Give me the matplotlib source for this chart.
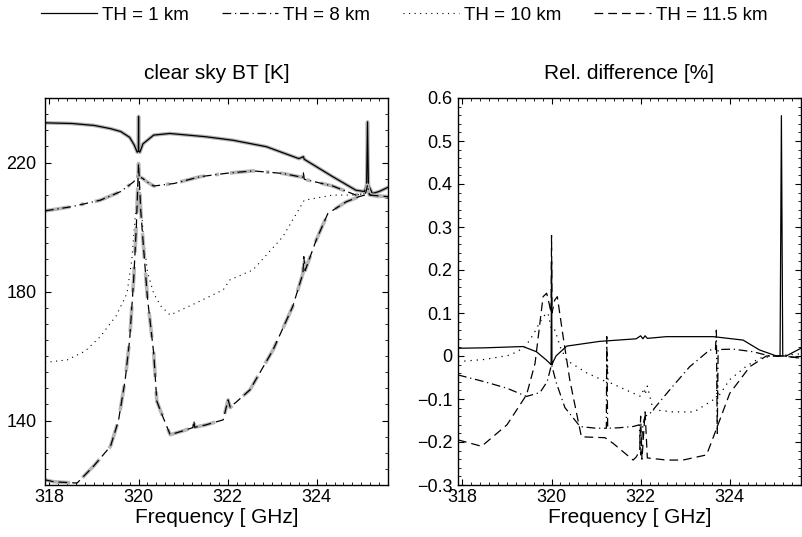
import matplotlib
matplotlib.use('Agg')
import matplotlib.pyplot as plt
from matplotlib.ticker import MultipleLocator, FuncFormatter

plt.rcParams['font.family'] = ['Liberation Sans', 'DejaVu Sans']

# ---- clear sky BT [K] ----
f_bt1 = [317.9, 318.5, 319.0, 319.37, 319.6, 319.8, 319.9, 319.97, 319.995, 320.0, 320.005, 320.03,
         320.1, 320.34, 320.7, 321.5, 322.12, 322.87, 323.6, 323.7, 323.72, 324.36, 324.88, 325.07,
         325.12, 325.14, 325.16, 325.25, 325.4, 325.6]
bt1 = [232.3, 232.1, 231.5, 230.5, 229.6, 227.8, 225.5, 223.2, 223.5, 234.3, 223.5, 223.2,
       225.8, 228.5, 229.0, 228.0, 226.9, 224.9, 221.2, 221.8, 221.0, 215.6, 211.4, 211.0,
       213.0, 232.6, 213.0, 210.4, 211.0, 212.3]

f_bt8 = [317.9, 318.5, 319.14, 319.6, 319.89, 319.97, 320.0, 320.03, 320.1, 320.19, 320.34, 320.8,
         321.38, 322.0, 322.57, 323.24, 323.68, 323.7, 323.72, 324.36, 324.88, 325.1, 325.14, 325.18, 325.6]
bt8 = [205.0, 206.3, 208.3, 211.0, 214.0, 215.5, 216.6, 215.5, 215.0, 214.0, 212.7, 213.5,
       215.6, 216.7, 217.4, 216.6, 215.4, 216.8, 214.8, 212.7, 209.9, 210.5, 213.0, 210.0, 208.9]

f_bt10 = [317.9, 318.4, 318.8, 319.14, 319.5, 319.74, 319.85, 319.93, 320.0, 320.05, 320.11, 320.2,
          320.34, 320.5, 320.71, 321.3, 321.9, 322.05, 322.57, 323.24, 323.72, 324.36, 324.88, 325.14, 325.6]
bt10 = [158.0, 158.8, 161.5, 166.0, 172.5, 179.4, 190.0, 204.0, 216.0, 208.0, 197.0, 186.0,
        179.4, 175.5, 172.7, 176.5, 180.5, 183.6, 186.7, 197.0, 208.3, 209.9, 209.9, 210.5, 209.4]

f_bt11 = [317.9, 318.1, 318.62, 319.0, 319.37, 319.55, 319.7, 319.8, 319.89, 319.95, 320.0, 320.05,
          320.11, 320.2, 320.34, 320.41, 320.55, 320.71, 321.0, 321.22, 321.24, 321.26, 321.5, 321.9,
          322.01, 322.06, 322.12, 322.2, 322.5, 323.02, 323.46, 323.69, 323.71, 323.74, 323.99, 324.25,
          324.66, 324.95, 325.1, 325.6]
bt11 = [121.6, 121.0, 120.6, 126.0, 132.0, 140.0, 152.6, 165.0, 183.6, 200.0, 219.7, 205.0,
        194.0, 178.0, 160.9, 146.0, 141.0, 135.6, 136.8, 137.8, 140.0, 137.9, 138.6, 140.2,
        146.4, 144.0, 144.9, 145.8, 149.5, 161.9, 175.3, 185.6, 190.8, 186.5, 196.0, 204.2,
        207.8, 209.4, 210.0, 209.4]

# ---- Rel. difference [%] ----
f_rd1 = [317.9, 318.5, 319.36, 319.66, 319.89, 319.97, 319.99, 320.0, 320.01, 320.03, 320.1, 320.34,
         321.08, 321.9, 322.0, 322.05, 322.1, 322.15, 322.58, 323.63, 324.3, 324.67, 325.05, 325.13,
         325.16, 325.19, 325.27, 325.45, 325.6]
rd1 = [0.018, 0.019, 0.022, 0.010, -0.010, -0.018, -0.020, 0.220, -0.020, -0.015, 0.0, 0.023,
       0.034, 0.040, 0.047, 0.040, 0.047, 0.041, 0.045, 0.045, 0.037, 0.014, 0.0, 0.0,
       0.559, 0.0, 0.0, 0.010, 0.018]

f_rd8 = [317.9, 318.5, 319.0, 319.44, 319.74, 319.9, 320.0, 320.1, 320.3, 320.64, 321.0, 321.23,
         321.24, 321.26, 321.27, 321.5, 321.83, 321.97, 322.0, 322.05, 322.1, 322.2, 322.65, 323.1,
         323.55, 323.68, 323.7, 323.72, 323.74, 324.07, 324.52, 324.9, 325.2, 325.6]
rd8 = [-0.044, -0.060, -0.075, -0.094, -0.085, -0.060, -0.020, -0.060, -0.120, -0.164, -0.168, -0.168,
       0.045, -0.168, -0.168, -0.167, -0.164, -0.160, -0.230, -0.160, -0.140, -0.135, -0.079, -0.025,
       0.014, 0.015, 0.060, -0.180, 0.015, 0.016, 0.010, 0.0, 0.0, -0.005]

f_rd10 = [317.9, 318.5, 319.07, 319.4, 319.59, 319.81, 319.92, 320.0, 320.08, 320.19, 320.34, 320.8,
          321.23, 321.25, 321.27, 321.8, 322.0, 322.08, 322.1, 322.15, 322.28, 322.73, 323.2, 323.63,
          323.7, 323.72, 323.74, 324.0, 324.37, 324.67, 325.0, 325.6]
rd10 = [-0.013, -0.008, 0.002, 0.020, 0.050, 0.092, 0.100, 0.060, 0.060, 0.022, -0.010, -0.040,
        -0.060, 0.005, -0.060, -0.085, -0.094, -0.075, -0.090, -0.070, -0.125, -0.130, -0.130, -0.102,
        -0.100, -0.040, -0.095, -0.055, -0.024, -0.005, 0.0, 0.005]

f_rd11 = [317.9, 318.43, 319.0, 319.44, 319.63, 319.81, 319.89, 319.95, 319.99, 320.0, 320.01, 320.07,
          320.13, 320.26, 320.41, 320.67, 321.2, 321.38, 321.83, 321.9, 321.98, 322.0, 322.03, 322.1,
          322.15, 322.58, 322.95, 323.48, 323.7, 324.0, 324.45, 324.82, 325.2, 325.6]
rd11 = [-0.195, -0.210, -0.160, -0.090, -0.017, 0.138, 0.146, 0.120, 0.100, 0.280, 0.100, 0.130,
        0.138, 0.045, -0.056, -0.188, -0.190, -0.203, -0.242, -0.235, -0.220, -0.140, -0.240, -0.130,
        -0.237, -0.242, -0.242, -0.230, -0.170, -0.087, -0.025, 0.0, 0.0, -0.005]

labels = ['TH = 1 km', 'TH = 8 km', 'TH = 10 km', 'TH = 11.5 km']
styles = ['-', (0, (7, 3, 1, 3)), (0, (1, 4)), (0, (7, 4))]

fig = plt.figure(figsize=(8.03, 5.37), dpi=100)
ax1 = fig.add_axes([45 / 803, 52 / 537, 343 / 803, 387 / 537])
ax2 = fig.add_axes([458 / 803, 52 / 537, 343 / 803, 387 / 537])

bt_sets = [(f_bt1, bt1), (f_bt8, bt8), (f_bt10, bt10), (f_bt11, bt11)]
rd_sets = [(f_rd1, rd1), (f_rd8, rd8), (f_rd10, rd10), (f_rd11, rd11)]

handles = []
for (f, v), ls, lab in zip(bt_sets, styles, labels):
    if lab != 'TH = 10 km':
        ax1.plot(f, v, color='#b5b5b5', lw=2.6, ls=ls)
    h, = ax1.plot(f, v, color='black', lw=0.9 if lab != 'TH = 10 km' else 0.8, ls=ls, label=lab)
    handles.append(h)

for (f, v), ls in zip(rd_sets, styles):
    ax2.plot(f, v, color='black', lw=0.9, ls=ls)

ax1.set_xlim(317.9, 325.6)
ax1.set_ylim(120, 240)
ax1.yaxis.set_minor_locator(MultipleLocator(5))
ax1.set_yticks([140, 180, 220])

ax2.set_xlim(317.9, 325.6)
ax2.set_ylim(-0.3, 0.6)
ax2.yaxis.set_major_locator(MultipleLocator(0.1))
ax2.yaxis.set_minor_locator(MultipleLocator(0.02))
ax2.yaxis.set_major_formatter(FuncFormatter(lambda v, p: '0' if abs(v) < 1e-9 else ('%.1f' % v).replace('-', '\u2212')))

for ax, title in [(ax1, 'clear sky BT [K]'), (ax2, 'Rel. difference [%]')]:
    ax.xaxis.set_major_locator(MultipleLocator(2))
    ax.xaxis.set_minor_locator(MultipleLocator(0.2))
    ax.tick_params(which='both', direction='in', top=True, right=True, labelsize=13)
    ax.tick_params(which='major', length=4, width=0.8)
    ax.tick_params(which='minor', length=2, width=0.6)
    ax.tick_params(axis='x', pad=3)
    ax.set_title(title, fontsize=15, pad=14)
    ax.set_xlabel('Frequency [ GHz]', fontsize=15, labelpad=1)
    for s in ax.spines.values():
        s.set_linewidth(1.0)

ax1.tick_params(axis='y', pad=6)
ax2.tick_params(axis='y', pad=4)

fig.legend(handles, labels, loc='center', bbox_to_anchor=(404 / 803, 1 - 15 / 537), ncol=4,
           frameon=False, fontsize=13.5, handlelength=3.0, handletextpad=0.27, columnspacing=1.75,
           borderaxespad=0, borderpad=0)

plt.savefig('out.png', dpi=100)
